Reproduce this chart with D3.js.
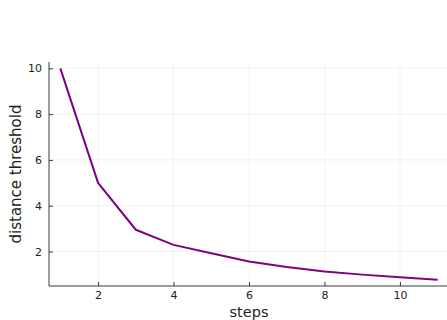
<!DOCTYPE html>
<html>
<head>
<meta charset="utf-8">
<script src="https://cdn.jsdelivr.net/npm/d3@7"></script>
<style>
  html, body { margin: 0; padding: 0; background: #fff; }
  svg { display: block; }
  text { font-family: "DejaVu Sans", sans-serif; }
</style>
</head>
<body>
<script>
// Distance threshold decay over steps
const steps = [1, 2, 3, 4, 5, 6, 7, 8, 9, 10, 11];
const threshold = [10, 5.0, 2.95, 2.29, 1.92, 1.56, 1.32, 1.13, 0.99, 0.87, 0.77];
const xTicks = [2, 4, 6, 8, 10];
const yTicks = [2, 4, 6, 8, 10];

const W = 447, H = 320;
const plot = { left: 49, right: 449, top: 62, bottom: 286 };

// 3% padding on each side of the data extent
function padded(vals) {
  const [lo, hi] = d3.extent(vals);
  const p = (hi - lo) * 0.03;
  return [lo - p, hi + p];
}

const x = d3.scaleLinear().domain(padded(steps)).range([plot.left, plot.right]);
const y = d3.scaleLinear().domain(padded(threshold)).range([plot.bottom, plot.top]);

const svg = d3.select("body").append("svg")
  .attr("width", W).attr("height", H);

// grid
const grid = svg.append("g").attr("stroke", "#000").attr("stroke-opacity", 0.09).attr("stroke-width", 0.6);
grid.selectAll("line.gx").data(xTicks).join("line")
  .attr("x1", d => x(d)).attr("x2", d => x(d))
  .attr("y1", plot.top).attr("y2", plot.bottom);
grid.selectAll("line.gy").data(yTicks).join("line")
  .attr("y1", d => y(d)).attr("y2", d => y(d))
  .attr("x1", plot.left).attr("x2", plot.right);

// axes with inward ticks
const xAxis = svg.append("g")
  .attr("transform", `translate(0,${plot.bottom})`)
  .call(d3.axisBottom(x).tickValues(xTicks).tickSizeInner(-4).tickSizeOuter(0).tickPadding(5));
const yAxis = svg.append("g")
  .attr("transform", `translate(${plot.left},0)`)
  .call(d3.axisLeft(y).tickValues(yTicks).tickSizeInner(-4).tickSizeOuter(0).tickPadding(7));

[xAxis, yAxis].forEach(g => {
  g.select(".domain").attr("stroke", "#3a3a3a").attr("stroke-width", 1);
  g.selectAll(".tick line").attr("stroke", "#3a3a3a").attr("stroke-width", 1);
  g.selectAll(".tick text").attr("fill", "#222").style("font-size", "11px")
    .style("font-family", "DejaVu Sans, sans-serif");
});
yAxis.select(".domain").attr("d", `M0,${plot.bottom}V${plot.top}`);
xAxis.select(".domain").attr("d", `M${plot.left},0H${plot.right}`);

// line
svg.append("path")
  .datum(steps.map((s, i) => [s, threshold[i]]))
  .attr("fill", "none")
  .attr("stroke", "#800080")
  .attr("stroke-width", 2)
  .attr("stroke-linejoin", "round")
  .attr("d", d3.line().x(d => x(d[0])).y(d => y(d[1])));

// axis titles
svg.append("text")
  .attr("x", (plot.left + plot.right) / 2).attr("y", 316.5)
  .attr("text-anchor", "middle").attr("fill", "#222")
  .style("font-size", "14.5px").text("steps");
svg.append("text")
  .attr("transform", `translate(21,${(plot.top + plot.bottom) / 2}) rotate(-90)`)
  .attr("text-anchor", "middle").attr("fill", "#222")
  .style("font-size", "15px").text("distance threshold");
</script>
</body>
</html>
